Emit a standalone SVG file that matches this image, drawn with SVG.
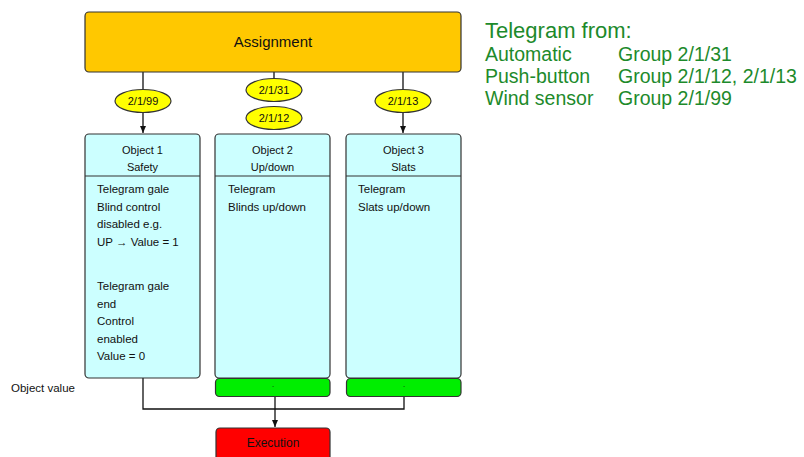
<svg xmlns="http://www.w3.org/2000/svg" width="804" height="457" viewBox="0 0 804 457">
  <style>
    .box { stroke: #333; stroke-width: 1.2; }
    .obj { fill: #ccffff; }
    .val { fill: #00ee00; }
    .grp { fill: #ffff00; stroke: #333; stroke-width: 1.2; }
    .t { font-family: "Liberation Sans", Arial, sans-serif; fill: #111; }
    .small { font-size: 11px; }
    .body { font-size: 11.5px; }
    .legend { font-family: "Liberation Sans", Arial, sans-serif; fill: #1d8a2b; }
    .wire { fill: none; stroke: #111; stroke-width: 1.3; }
  </style>
  <defs>
    <marker id="arrow" markerWidth="8" markerHeight="8" refX="7" refY="4" orient="auto" markerUnits="userSpaceOnUse">
      <path d="M0,1 L7,4 L0,7 Z" fill="#111"/>
    </marker>
  </defs>
  <rect width="804" height="457" fill="#fff"/>

  <!-- connectors -->
  <g id="connectors">
    <line class="wire" x1="143" y1="72" x2="143" y2="89"/>
    <line class="wire" x1="143" y1="113" x2="143" y2="133" marker-end="url(#arrow)"/>
    <line class="wire" x1="274" y1="72" x2="274" y2="78"/>
    <line class="wire" x1="403" y1="72" x2="403" y2="89"/>
    <line class="wire" x1="403" y1="113" x2="403" y2="133" marker-end="url(#arrow)"/>
    <polyline class="wire" points="143,378 143,409 404,409 404,396"/>
    <line class="wire" x1="275" y1="396" x2="275" y2="427" marker-end="url(#arrow)"/>
  </g>

  <!-- assignment -->
  <g id="assignment">
    <rect class="box" x="85" y="12" width="376" height="60" rx="4" fill="#ffc800"/>
    <text class="t" x="273" y="47" font-size="15" text-anchor="middle">Assignment</text>
  </g>

  <!-- group addresses -->
  <g id="group-99">
    <ellipse class="grp" cx="143" cy="101" rx="28" ry="11.5"/>
    <text class="t small" x="143" y="105" text-anchor="middle">2/1/99</text>
  </g>
  <g id="group-31">
    <ellipse class="grp" cx="274" cy="90" rx="28" ry="11.5"/>
    <text class="t small" x="274" y="94" text-anchor="middle">2/1/31</text>
  </g>
  <g id="group-12">
    <ellipse class="grp" cx="274" cy="118" rx="28" ry="11.5"/>
    <text class="t small" x="274" y="122" text-anchor="middle">2/1/12</text>
  </g>
  <g id="group-13">
    <ellipse class="grp" cx="403" cy="101" rx="28" ry="11.5"/>
    <text class="t small" x="403" y="105" text-anchor="middle">2/1/13</text>
  </g>

  <!-- object 1 -->
  <g id="object1">
    <rect class="box obj" x="85" y="134" width="115" height="244" rx="4"/>
    <line class="box" x1="85" y1="176" x2="200" y2="176"/>
    <text class="t small" x="142.5" y="154" text-anchor="middle">Object 1</text>
    <text class="t small" x="142.5" y="171" text-anchor="middle">Safety</text>
    <text class="t body" x="97" y="193">Telegram gale</text>
    <text class="t body" x="97" y="210.5">Blind control</text>
    <text class="t body" x="97" y="228">disabled e.g.</text>
    <text class="t body" x="97" y="245.5">UP → Value = 1</text>
    <text class="t body" x="97" y="290">Telegram gale</text>
    <text class="t body" x="97" y="307.5">end</text>
    <text class="t body" x="97" y="325">Control</text>
    <text class="t body" x="97" y="342.5">enabled</text>
    <text class="t body" x="97" y="360">Value = 0</text>
  </g>

  <!-- object 2 -->
  <g id="object2">
    <rect class="box obj" x="215" y="134" width="115" height="244" rx="4"/>
    <line class="box" x1="215" y1="176" x2="330" y2="176"/>
    <text class="t small" x="272.5" y="154" text-anchor="middle">Object 2</text>
    <text class="t small" x="272.5" y="171" text-anchor="middle">Up/down</text>
    <text class="t body" x="228" y="193">Telegram</text>
    <text class="t body" x="228" y="210.5">Blinds up/down</text>
  </g>
  <g id="value2">
    <rect class="box val" x="215.5" y="378.5" width="114.5" height="18" rx="4"/>
    <text class="t" x="273" y="389" font-size="8" text-anchor="middle">·</text>
  </g>

  <!-- object 3 -->
  <g id="object3">
    <rect class="box obj" x="346" y="134" width="115" height="244" rx="4"/>
    <line class="box" x1="346" y1="176" x2="461" y2="176"/>
    <text class="t small" x="403.5" y="154" text-anchor="middle">Object 3</text>
    <text class="t small" x="403.5" y="171" text-anchor="middle">Slats</text>
    <text class="t body" x="358" y="193">Telegram</text>
    <text class="t body" x="358" y="210.5">Slats up/down</text>
  </g>
  <g id="value3">
    <rect class="box val" x="346.5" y="378.5" width="114.5" height="18" rx="4"/>
    <text class="t" x="404" y="389" font-size="8" text-anchor="middle">·</text>
  </g>

  <!-- object value label -->
  <g id="object-value-label">
    <text class="t" x="11" y="392" font-size="11.5" fill="#333">Object value</text>
  </g>

  <!-- execution -->
  <g id="execution">
    <rect class="box" x="216" y="428" width="114" height="40" rx="4" fill="#ff0000"/>
    <text class="t" x="273" y="447" font-size="12" text-anchor="middle">Execution</text>
  </g>

  <!-- telegram sources -->
  <g id="legend">
    <text class="legend" x="485" y="38" font-size="22">Telegram from:</text>
    <text class="legend" x="485" y="61" font-size="19.5">Automatic</text>
    <text class="legend" x="618" y="61" font-size="19.5">Group 2/1/31</text>
    <text class="legend" x="485" y="83" font-size="19.5">Push-button</text>
    <text class="legend" x="618" y="83" font-size="19.5">Group 2/1/12, 2/1/13</text>
    <text class="legend" x="485" y="105" font-size="19.5">Wind sensor</text>
    <text class="legend" x="618" y="105" font-size="19.5">Group 2/1/99</text>
  </g>
</svg>
